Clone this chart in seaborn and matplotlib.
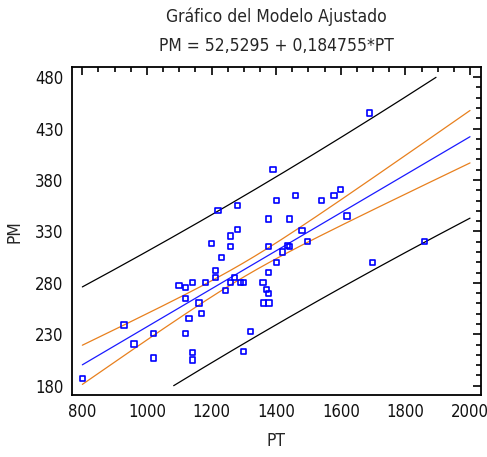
import numpy as np
import pandas as pd
import seaborn as sns
import matplotlib
matplotlib.use("Agg")
import matplotlib.pyplot as plt
from matplotlib.ticker import MultipleLocator

# ---- data ----
pt = [800, 929, 960, 1020, 1020, 1099, 1120, 1120, 1120, 1130,
      1141, 1141, 1141, 1161, 1170, 1180, 1200, 1211, 1211, 1220,
      1231, 1242, 1259, 1259, 1259, 1270, 1280, 1280, 1290, 1300,
      1300, 1321, 1359, 1360, 1370, 1377, 1377, 1377, 1377, 1378,
      1390, 1401, 1401, 1419, 1436, 1440, 1440, 1460, 1480, 1498,
      1540, 1579, 1600, 1619, 1689, 1699, 1859]
pm = [187, 239, 220.5, 231, 207, 277.5, 275.5, 265, 231, 245,
      280.5, 212.5, 205, 260.5, 250, 280.5, 318, 292, 285, 350,
      305, 272.5, 325.5, 315.5, 280.5, 285, 355, 332, 280.5, 280.5,
      213, 232.5, 280.5, 260.5, 273.5, 342, 315.5, 290, 270, 260.5,
      390, 360, 300, 310, 316.5, 315, 342, 365, 330.5, 320,
      360, 365, 370.5, 345, 445, 300, 320]

INTERCEPT = 52.5295
SLOPE = 0.184755
T_PRED = 1.91   # multiplier of the prediction limits
T_CONF = 1.40   # multiplier of the confidence limits
title_line1 = "Gráfico del Modelo Ajustado"
title_line2 = "PM = 52,5295 + 0,184755*PT"
x_label = "PT"
y_label = "PM"
x_ticks = [800, 1000, 1200, 1400, 1600, 1800, 2000]
y_ticks = [180, 230, 280, 330, 380, 430, 480]

df = pd.DataFrame({"PT": pt, "PM": pm})

# ---- fit bands ----
x = np.asarray(pt, float)
y = np.asarray(pm, float)
n = len(x)
resid = y - (INTERCEPT + SLOPE * x)
s = np.sqrt(np.sum(resid ** 2) / (n - 2))
xbar = x.mean()
sxx = np.sum((x - xbar) ** 2)
xg = np.linspace(x_ticks[0], x_ticks[-1], 400)
yg = INTERCEPT + SLOPE * xg
se_conf = s * np.sqrt(1 / n + (xg - xbar) ** 2 / sxx)
se_pred = s * np.sqrt(1 + 1 / n + (xg - xbar) ** 2 / sxx)


def clip(v):
    v = v.copy()
    v[(v < y_ticks[0]) | (v > y_ticks[-1])] = np.nan
    return v


sns.set_style("white")
plt.rcParams["font.family"] = ["DejaVu Sans"]
plt.rcParams["font.stretch"] = "condensed"

fig = plt.figure(figsize=(4.87, 4.57), dpi=100)
ax = fig.add_axes([0.1472, 0.1357, 0.987 - 0.1472, 0.8527 - 0.1357])

orange = "#e8801e"
ax.plot(xg, clip(yg + T_PRED * se_pred), color="black", lw=0.9)
ax.plot(xg, clip(yg - T_PRED * se_pred), color="black", lw=0.9)
ax.plot(xg, clip(yg + T_CONF * se_conf), color=orange, lw=0.9)
ax.plot(xg, clip(yg - T_CONF * se_conf), color=orange, lw=0.9)
ax.plot(xg, clip(yg), color="#1a1aff", lw=0.9)

sns.scatterplot(data=df, x="PT", y="PM", ax=ax, marker="s", s=14,
                facecolor="none", edgecolor="#0000ff", linewidth=1.2, zorder=5)

ax.set_xlim(767, 2033)
ax.set_ylim(171, 489.5)
ax.set_xticks(x_ticks)
ax.set_yticks(y_ticks)
ax.xaxis.set_minor_locator(MultipleLocator(50))
ax.yaxis.set_minor_locator(MultipleLocator(10))
ax.tick_params(which="both", direction="in", top=True, right=True, color="black",
               width=1.2, labelsize=12, labelcolor="#111111")
ax.tick_params(which="major", length=6, pad=6)
ax.tick_params(which="minor", length=3.5)
for sp in ax.spines.values():
    sp.set_visible(True)
    sp.set_color("black")
    sp.set_linewidth(1.3)

ax.set_xlabel(x_label, fontsize=12.5, labelpad=8)
ax.set_ylabel(y_label, fontsize=12.5, labelpad=8)

fig.text(0.567, 1 - 17 / 457, title_line1, ha="center", va="center", fontsize=12.5)
fig.text(0.567, 1 - 46 / 457, title_line2, ha="center", va="center", fontsize=12.5)

fig.savefig("out.png", dpi=100)
